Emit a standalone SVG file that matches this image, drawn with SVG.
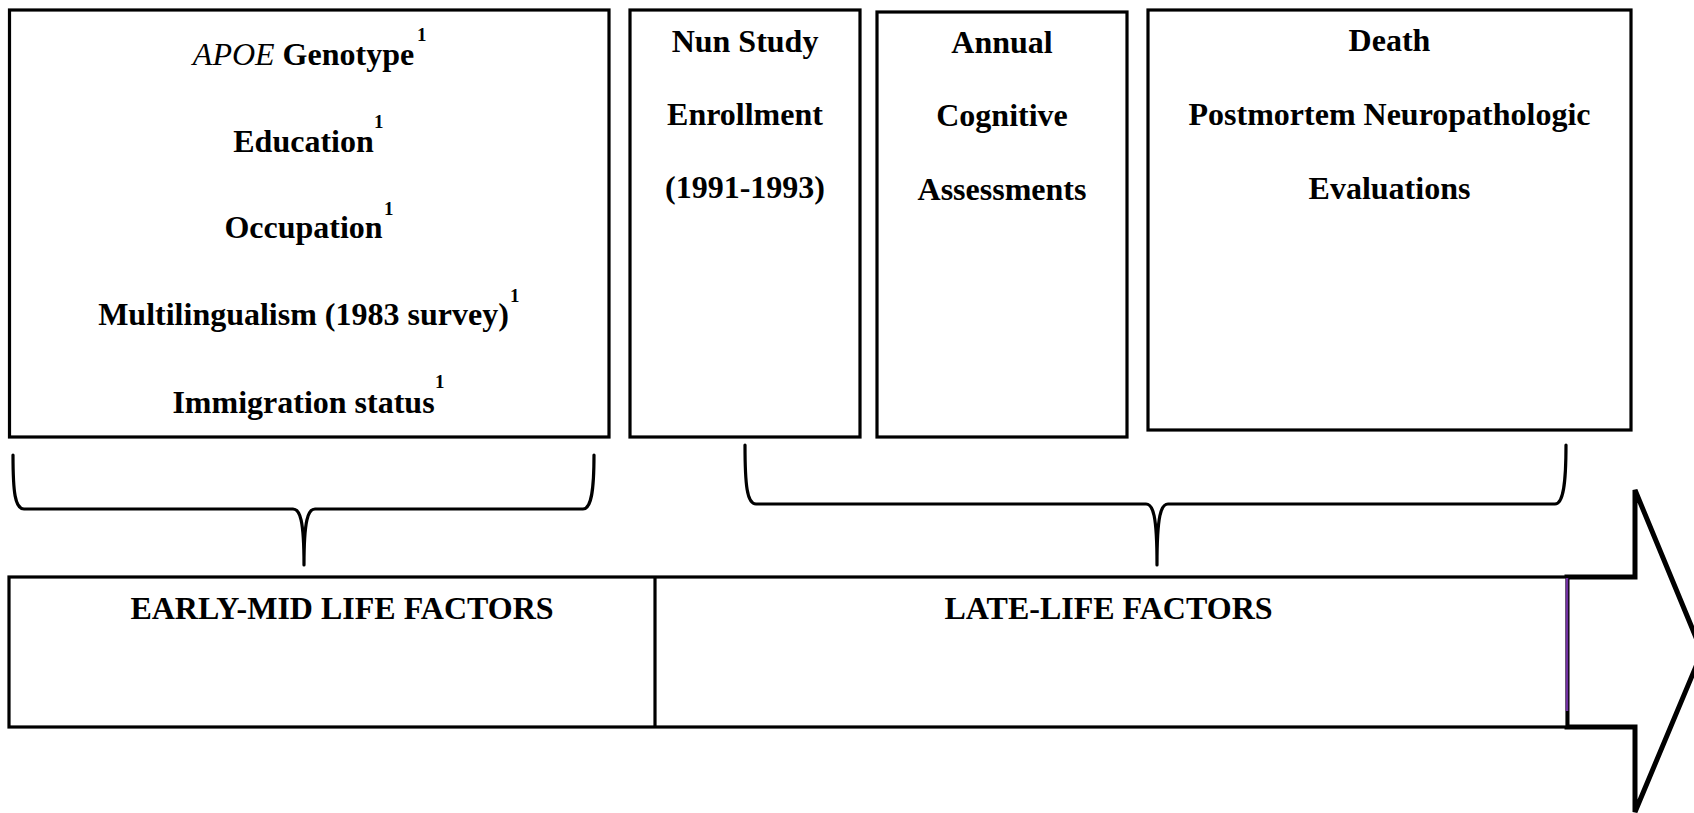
<svg xmlns="http://www.w3.org/2000/svg" width="1694" height="813" viewBox="0 0 1694 813">
<style>
.box{fill:#fff;stroke:#000;stroke-width:3.2}
.t{font-family:"Liberation Serif","Times New Roman",serif;font-weight:bold;font-size:32px;fill:#000;text-anchor:middle}
.sup{font-family:"Liberation Serif","Times New Roman",serif;font-weight:bold;font-size:19px;fill:#000}
.brace{fill:none;stroke:#000;stroke-width:3.2;stroke-linecap:round;stroke-linejoin:round}
</style>
<rect width="1694" height="813" fill="#fff"/>
<g id="early-box">
<rect class="box" x="9.5" y="10" width="599.5" height="427"/>
<text class="t" x="303.5" y="65"><tspan font-style="italic" font-weight="normal">APOE</tspan> Genotype</text>
<text class="sup" x="417" y="41">1</text>
<text class="t" x="303.5" y="152">Education</text>
<text class="sup" x="374" y="128">1</text>
<text class="t" x="303.5" y="238">Occupation</text>
<text class="sup" x="384" y="215">1</text>
<text class="t" x="303.5" y="325">Multilingualism (1983 survey)</text>
<text class="sup" x="510" y="302">1</text>
<text class="t" x="303.5" y="413">Immigration status</text>
<text class="sup" x="435" y="388">1</text>
</g>
<g id="nun-box">
<rect class="box" x="630" y="10" width="230" height="427"/>
<text class="t" x="745" y="52">Nun Study</text>
<text class="t" x="745" y="125">Enrollment</text>
<text class="t" x="745" y="198">(1991-1993)</text>
</g>
<g id="annual-box">
<rect class="box" x="877" y="12" width="250" height="425"/>
<text class="t" x="1002" y="53">Annual</text>
<text class="t" x="1002" y="126">Cognitive</text>
<text class="t" x="1002" y="200">Assessments</text>
</g>
<g id="death-box">
<rect class="box" x="1148" y="10" width="483" height="420"/>
<text class="t" x="1389.5" y="51">Death</text>
<text class="t" x="1389.5" y="125">Postmortem Neuropathologic</text>
<text class="t" x="1389.5" y="199">Evaluations</text>
</g>
<g id="timeline">
<polygon points="1567,577 1635,577 1635,490 1702,652 1635,812 1635,727 1567,727" fill="#fff" stroke="#000" stroke-width="5" stroke-linejoin="miter"/>
<rect class="box" x="9" y="577" width="1558" height="150"/>
<line x1="655" y1="577" x2="655" y2="727" stroke="#000" stroke-width="3.2"/>
<line x1="1567" y1="578" x2="1567" y2="711" stroke="#7030A0" stroke-width="2.5"/>
<text class="t" x="342" y="619">EARLY-MID LIFE FACTORS</text>
<text class="t" x="1108.5" y="619">LATE-LIFE FACTORS</text>
</g>
<g id="connectors">
<path class="brace" d="M13,455 C13,492 15,509 24,509 L293,509 C300,509 304,520 304,565 C304,520 308,509 315,509 L583,509 C591,509 594,492 594,455"/>
<path class="brace" d="M745,445 C745,485 747,504 756,504 L1146,504 C1153,504 1157,515 1157,565 C1157,515 1161,504 1168,504 L1555,504 C1563,504 1566,485 1566,445"/>
</g>
</svg>
